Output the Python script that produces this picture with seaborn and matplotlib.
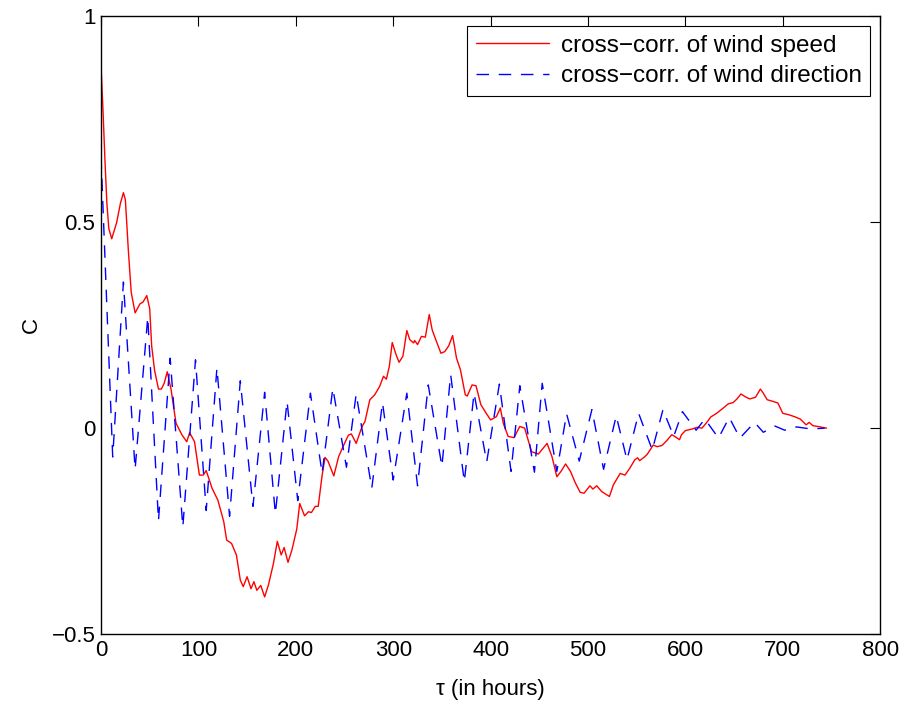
import matplotlib
matplotlib.use("Agg")
import matplotlib.pyplot as plt
import seaborn as sns

# Cross-correlation of wind speed (lag in hours, coefficient)
speed_lag = [0, 2, 4, 6, 8, 11, 16, 20, 23, 25, 28, 31, 35, 40, 43, 47, 50, 52, 55, 59,
             62, 65, 68, 72, 77, 83, 88, 91, 96, 101, 105, 108, 114, 120, 126, 129, 134, 139,
             143, 146, 150, 154, 157, 160, 164, 168, 172, 177, 181, 185, 188, 192, 196, 201,
             204, 209, 213, 216, 220, 223, 227, 230, 233, 239, 244, 250, 254, 257, 262, 268,
             271, 276, 281, 286, 290, 293, 296, 299, 303, 306, 310, 314, 317, 321, 322, 325,
             329, 333, 337, 340, 344, 349, 353, 357, 361, 365, 369, 374, 376, 381, 385, 390,
             395, 400, 406, 410, 413, 418, 424, 430, 435, 442, 449, 458, 463, 468, 472, 477,
             482, 487, 492, 496, 502, 505, 509, 514, 522, 526, 533, 538, 543, 548, 551, 553,
             558, 561, 567, 571, 576, 581, 586, 589, 594, 596, 600, 607, 612, 617, 622, 626,
             632, 639, 644, 649, 653, 657, 661, 666, 672, 677, 680, 684, 690, 695, 700, 707,
             713, 718, 724, 727, 731, 736, 745]
speed_corr = [0.88, 0.774, 0.653, 0.547, 0.485, 0.46, 0.499, 0.547, 0.572, 0.555, 0.434, 0.33,
              0.28, 0.302, 0.306, 0.322, 0.29, 0.2, 0.14, 0.095, 0.095, 0.11, 0.137, 0.093,
              0.012, -0.016, -0.033, -0.011, -0.033, -0.114, -0.114, -0.103, -0.146, -0.175,
              -0.227, -0.272, -0.28, -0.308, -0.369, -0.385, -0.361, -0.39, -0.373, -0.394,
              -0.382, -0.41, -0.38, -0.329, -0.275, -0.308, -0.29, -0.326, -0.296, -0.245,
              -0.183, -0.213, -0.203, -0.205, -0.19, -0.19, -0.115, -0.071, -0.08, -0.116,
              -0.069, -0.037, -0.017, -0.014, -0.037, 0.004, 0.016, 0.069, 0.081, 0.101, 0.126,
              0.119, 0.15, 0.208, 0.178, 0.16, 0.175, 0.237, 0.215, 0.207, 0.213, 0.203, 0.223,
              0.221, 0.276, 0.239, 0.213, 0.182, 0.186, 0.2, 0.225, 0.17, 0.142, 0.081, 0.078,
              0.105, 0.103, 0.057, 0.038, 0.02, 0.028, 0.049, 0.012, -0.02, -0.023, 0.004, 0.0,
              -0.057, -0.063, -0.037, -0.069, -0.118, -0.106, -0.087, -0.105, -0.133, -0.156,
              -0.158, -0.14, -0.148, -0.14, -0.154, -0.166, -0.138, -0.11, -0.114, -0.097,
              -0.077, -0.072, -0.079, -0.07, -0.063, -0.041, -0.045, -0.042, -0.03, -0.016,
              -0.02, -0.028, -0.016, -0.006, -0.002, 0.002, 0.0, 0.014, 0.027, 0.036, 0.049,
              0.059, 0.062, 0.071, 0.083, 0.077, 0.071, 0.075, 0.095, 0.085, 0.069, 0.065,
              0.061, 0.036, 0.032, 0.027, 0.022, 0.008, 0.014, 0.006, 0.004, 0.0]

# Cross-correlation of wind direction: daily swings (extrema of each half cycle)
dir_lag = [0, 12, 23, 35, 48, 59, 71, 84, 97, 108, 119, 132, 143, 156, 168, 179, 191, 202,
           215, 227, 238, 252, 262, 278, 289, 300, 314, 325, 336, 350, 359, 373, 383, 396,
           409, 421, 430, 445, 453, 468, 478, 491, 504, 516, 529, 540, 552, 566, 577, 588,
           597, 611, 620, 634, 645, 656, 671, 680, 692, 702, 714, 729, 743]
dir_corr = [0.66, -0.07, 0.355, -0.10, 0.27, -0.225, 0.17, -0.24, 0.166, -0.20, 0.146, -0.214,
            0.115, -0.19, 0.087, -0.208, 0.065, -0.176, 0.085, -0.11, 0.097, -0.095, 0.083,
            -0.146, 0.062, -0.126, 0.085, -0.14, 0.105, -0.093, 0.13, -0.13, 0.085, -0.082,
            0.107, -0.105, 0.103, -0.107, 0.109, -0.105, 0.035, -0.08, 0.045, -0.10, 0.03,
            -0.077, 0.036, -0.053, 0.045, -0.02, 0.04, -0.005, 0.022, -0.024, 0.026, -0.024,
            0.014, -0.01, 0.005, -0.005, 0.003, -0.002, 0.0]

x_ticks = [0, 100, 200, 300, 400, 500, 600, 700, 800]
y_ticks = [-0.5, 0, 0.5, 1]
y_tick_labels = ["\u22120.5", "0", "0.5", "1"]

sns.set_theme(style="white")
plt.rcParams["font.family"] = ["Liberation Sans", "DejaVu Sans"]
plt.rcParams["text.color"] = "black"

fig = plt.figure(figsize=(9.06, 7.02), dpi=100)
ax = fig.add_axes([0.1115, 0.0969, 0.860, 0.8796])

sns.lineplot(x=speed_lag, y=speed_corr, color="#ff0000", lw=1.0, ax=ax,
             estimator=None, sort=False, label="cross\u2212corr. of wind speed")
sns.lineplot(x=dir_lag, y=dir_corr, color="#0000ff", lw=1.0, ax=ax,
             estimator=None, sort=False, linestyle=(0, (9, 7)),
             label="cross\u2212corr. of wind direction")

ax.set_xlim(0, 800)
ax.set_ylim(-0.5, 1)
ax.set_xticks(x_ticks)
ax.set_xticklabels([str(t) for t in x_ticks])
ax.set_yticks(y_ticks)
ax.set_yticklabels(y_tick_labels)
ax.tick_params(direction="in", top=True, right=True, length=7, width=0.8,
               color="black", labelsize=16, labelcolor="black", pad=4)
for s in ax.spines.values():
    s.set_color("black")
    s.set_linewidth(1.0)

ax.set_xlabel("\u03c4 (in hours)", fontsize=16, color="black", labelpad=13)
ax.set_ylabel("C", fontsize=16, color="black", labelpad=7)

leg = ax.legend(loc="upper right", fontsize=17.5, frameon=True, fancybox=False,
                edgecolor="black", framealpha=1, handlelength=3.0,
                borderaxespad=0.4, borderpad=0.35, labelspacing=0.35, handletextpad=0.5)
leg.get_frame().set_linewidth(0.8)
for t in leg.get_texts():
    t.set_color("black")

fig.savefig("out.png", dpi=100, facecolor="white")
